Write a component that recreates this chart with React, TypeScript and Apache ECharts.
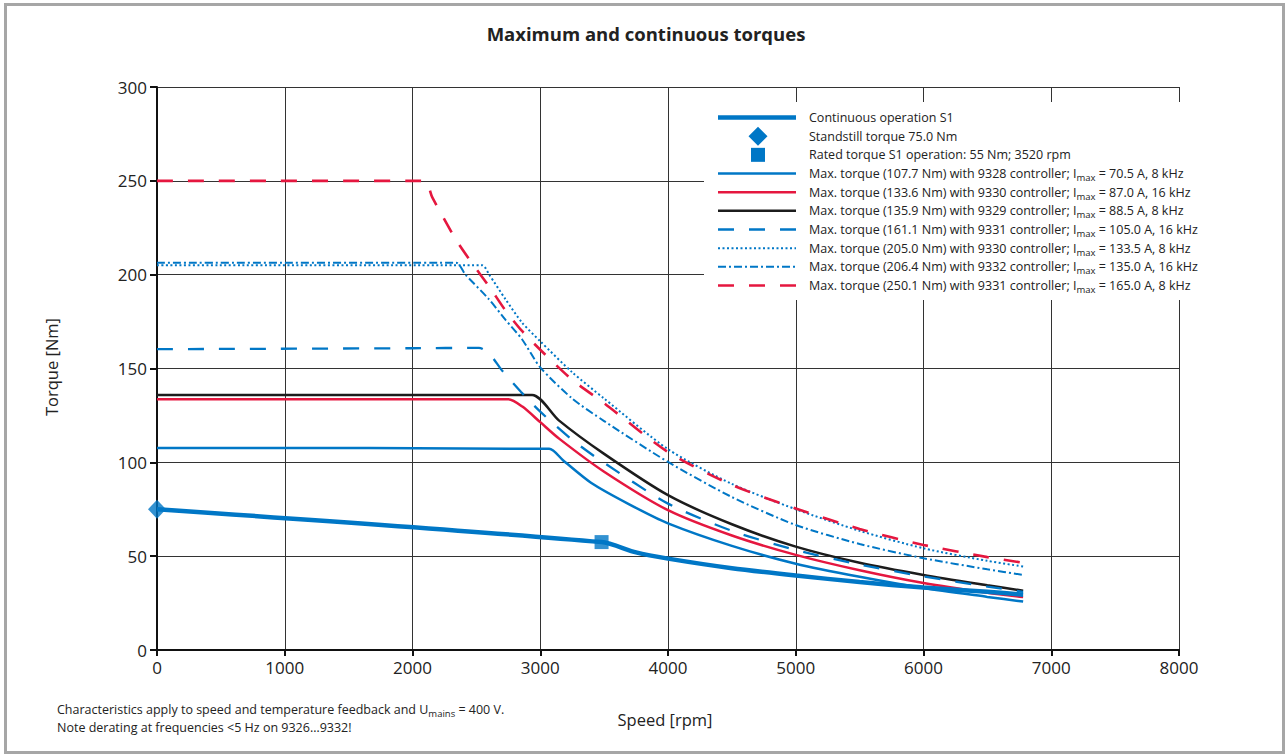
import React, { useEffect, useRef } from "react";
import * as echarts from "echarts";

// ---------- data (speed [rpm], torque [Nm]) ----------
const continuousS1: [number, number][] = [
  [0, 75], [3480, 57.5], [3750, 52], [4000, 48.7], [4500, 43.6], [5000, 39.7],
  [5500, 36.2], [6000, 33.3], [6500, 31.0], [6780, 29.5],
];
const standstillPoint: [number, number][] = [[0, 75]];
const ratedPoint: [number, number][] = [[3480, 57.5]];

const max9328_8k: [number, number][] = [
  [0, 107.7], [3070, 107.2], [3180, 101], [3400, 89], [3700, 77.5], [4000, 67.5],
  [4500, 55.5], [5000, 46], [5500, 39], [6000, 33], [6500, 28.3], [6780, 25.8],
];
const max9330_16k: [number, number][] = [
  [0, 133.6], [2750, 133.6], [2860, 129.7], [3000, 121.4], [3150, 112.5], [3500, 95],
  [4000, 74.5], [4500, 61], [5000, 50.7], [5500, 42.5], [6000, 35.7], [6500, 30.5], [6780, 28.2],
];
const max9329_8k: [number, number][] = [
  [0, 135.9], [2936, 135.9], [3143, 122.5], [3500, 104.5], [4000, 82.5], [4500, 67],
  [5000, 55.1], [5500, 46.5], [6000, 40], [6500, 34.5], [6780, 31.6],
];
const max9331_16k: [number, number][] = [
  [0, 160.3], [2000, 160.8], [2520, 161], [2600, 158], [2700, 149], [2850, 137.5],
  [3000, 127], [3250, 112], [3472, 101], [4000, 78], [4500, 63.5], [5000, 53.3],
  [5500, 45.5], [6000, 39.2], [6500, 33.8], [6780, 31],
];
const max9330_8k: [number, number][] = [
  [0, 205], [2545, 205], [2600, 200], [2727, 187], [2857, 174.5], [3000, 164.5],
  [3250, 148], [3500, 134], [4000, 107], [4500, 88.5], [5000, 75], [5500, 63.5],
  [6000, 54.2], [6500, 47.5], [6780, 44.5],
];
const max9332_16k: [number, number][] = [
  [0, 206.4], [2340, 206.4], [2415, 200], [2597, 187], [2727, 176], [2857, 165.6],
  [3000, 150.6], [3250, 134], [3500, 122], [4000, 100.2], [4500, 81.5], [5000, 66.6],
  [5500, 56.5], [6000, 48.9], [6500, 43], [6780, 40],
];
const max9331_8k: [number, number][] = [
  [0, 250], [2090, 250], [2156, 241], [2337, 219], [2467, 206], [2597, 194],
  [2727, 181], [2857, 170], [3000, 160], [3250, 144], [3500, 131.5], [4000, 105.5],
  [4500, 88], [5000, 75.4], [5500, 64.5], [6000, 56], [6500, 49.5], [6780, 46.5],
];

const legendLabels = [
  "Continuous operation S1",
  "Standstill torque 75.0 Nm",
  "Rated torque S1 operation: 55 Nm; 3520 rpm",
  "Max. torque (107.7 Nm) with 9328 controller; I{sub|max} = 70.5 A, 8 kHz",
  "Max. torque (133.6 Nm) with 9330 controller; I{sub|max} = 87.0 A, 16 kHz",
  "Max. torque (135.9 Nm) with 9329 controller; I{sub|max} = 88.5 A, 8 kHz",
  "Max. torque (161.1 Nm) with 9331 controller; I{sub|max} = 105.0 A, 16 kHz",
  "Max. torque (205.0 Nm) with 9330 controller; I{sub|max} = 133.5 A, 8 kHz",
  "Max. torque (206.4 Nm) with 9332 controller; I{sub|max} = 135.0 A, 16 kHz",
  "Max. torque (250.1 Nm) with 9331 controller; I{sub|max} = 165.0 A, 8 kHz",
];

const titleText = "Maximum and continuous torques";
const xAxisName = "Speed [rpm]";
const yAxisName = "Torque [Nm]";
const footnote1 = "Characteristics apply to speed and temperature feedback and U{sub|mains} = 400 V.";
const footnote2 = "Note derating at frequencies <5 Hz on 9326…9332!";

const BLUE = "#0077c6";
const RED = "#e5173f";
const BLACK = "#1c1c1c";
const FONT = "Open Sans";

type Style = { color: string; width: number; dash: number[] | "solid" };
const maxSeriesStyles: Style[] = [
  { color: BLUE, width: 2.5, dash: "solid" },
  { color: RED, width: 2.5, dash: "solid" },
  { color: BLACK, width: 2.5, dash: "solid" },
  { color: BLUE, width: 2.3, dash: [16, 15] },
  { color: BLUE, width: 2, dash: [2, 2.5] },
  { color: BLUE, width: 2, dash: [8, 3, 2, 3] },
  { color: RED, width: 2.6, dash: [16, 15] },
];
const maxSeriesData = [
  max9328_8k, max9330_16k, max9329_8k, max9331_16k, max9330_8k, max9332_16k, max9331_8k,
];

export default function App() {
  const ref = useRef<HTMLDivElement>(null);
  useEffect(() => {
    if (!ref.current) return;
    const chart = echarts.init(ref.current, undefined, { renderer: "svg" });

    const subRich = {
      sub: { fontSize: 9.5, fontFamily: FONT, lineHeight: 9, verticalAlign: "bottom", fill: "#222" },
    };

    const legendX0 = 718, legendX1 = 796, legendTextX = 809, legendY0 = 117.5, legendDY = 18.67;
    const legendChildren: any[] = [
      { type: "rect", shape: { x: 704, y: 102, width: 512, height: 198 }, style: { fill: "#fff" } },
    ];
    legendLabels.forEach((lab, i) => {
      const y = legendY0 + i * legendDY;
      if (i === 0) {
        legendChildren.push({ type: "line", shape: { x1: legendX0, y1: y, x2: legendX1, y2: y }, style: { stroke: BLUE, lineWidth: 4.5 } });
      } else if (i === 1) {
        legendChildren.push({ type: "polygon", shape: { points: [[758, y - 9.5], [767.5, y], [758, y + 9.5], [748.5, y]] }, style: { fill: BLUE } });
      } else if (i === 2) {
        legendChildren.push({ type: "rect", shape: { x: 751, y: y - 7, width: 14, height: 14 }, style: { fill: BLUE } });
      } else {
        const s = maxSeriesStyles[i - 3];
        legendChildren.push({
          type: "line",
          shape: { x1: legendX0, y1: y, x2: legendX1, y2: y },
          style: { stroke: s.color, lineWidth: s.width, lineDash: s.dash === "solid" ? null : s.dash },
        });
      }
      legendChildren.push({
        type: "text", x: legendTextX, y,
        style: {
          text: lab, fontFamily: FONT, fontSize: 12.5, lineHeight: 18, fill: "#222",
          align: "left", verticalAlign: "middle", rich: subRich,
        },
      });
    });

    const series: any[] = [
      {
        type: "line", name: legendLabels[0], data: continuousS1, symbol: "none",
        smooth: 0.25, lineStyle: { color: BLUE, width: 4.5 }, z: 3,
      },
      ...maxSeriesData.map((d, i) => ({
        type: "line", name: legendLabels[i + 3].replace("{sub|max}", "max"), data: d, symbol: "none",
        smooth: 0.25,
        lineStyle: { color: maxSeriesStyles[i].color, width: maxSeriesStyles[i].width, type: maxSeriesStyles[i].dash },
        z: 2,
      })),
      {
        type: "scatter", name: legendLabels[1], data: standstillPoint, symbol: "diamond",
        symbolSize: [18, 19], itemStyle: { color: BLUE }, clip: false, z: 5,
      },
      {
        type: "scatter", name: legendLabels[2], data: ratedPoint, symbol: "rect",
        symbolSize: 14, itemStyle: { color: BLUE }, clip: false, z: 5,
      },
    ];

    chart.setOption({
      animation: false,
      backgroundColor: "#fff",
      grid: { left: 157, top: 87, right: 107, bottom: 105, containLabel: false },
      xAxis: {
        type: "value", min: 0, max: 8000, interval: 1000,
        axisLine: { show: true, lineStyle: { color: "#111", width: 2 } },
        axisTick: { show: true, length: 6, lineStyle: { color: "#111", width: 2 } },
        axisLabel: { color: "#222", fontFamily: FONT, fontSize: 17, margin: 9, formatter: (v: number) => String(v) },
        splitLine: { show: true, lineStyle: { color: "#333", width: 1 } },
      },
      yAxis: {
        type: "value", min: 0, max: 300, interval: 50,
        axisLine: { show: true, lineStyle: { color: "#111", width: 2 } },
        axisTick: { show: true, length: 7, lineStyle: { color: "#111", width: 2 } },
        axisLabel: { color: "#222", fontFamily: FONT, fontSize: 17, margin: 10, padding: [0, 0, 6, 0], formatter: (v: number) => String(v) },
        splitLine: { show: true, lineStyle: { color: "#333", width: 1 } },
      },
      series,
      graphic: [
        {
          type: "rect", z: 200, silent: true,
          shape: { x: 5.5, y: 4.5, width: 1278, height: 748 },
          style: { fill: "none", stroke: "#a6a6a6", lineWidth: 3 },
        },
        {
          type: "text", x: 646, y: 33, z: 200,
          style: { text: titleText, fontFamily: FONT, fontWeight: "bold", fontSize: 18.5, fill: "#222", align: "center", verticalAlign: "middle" },
        },
        {
          type: "text", x: 51, y: 367, rotation: Math.PI / 2, z: 200,
          style: { text: yAxisName, fontFamily: FONT, fontSize: 16.5, fill: "#222", align: "center", verticalAlign: "middle" },
        },
        {
          type: "text", x: 665, y: 719, z: 200,
          style: { text: xAxisName, fontFamily: FONT, fontSize: 16.5, fill: "#222", align: "center", verticalAlign: "middle" },
        },
        {
          type: "text", x: 57, y: 709, z: 200,
          style: { text: footnote1, fontFamily: FONT, fontSize: 12.5, lineHeight: 18, fill: "#222", align: "left", verticalAlign: "middle", rich: { sub: { fontSize: 9.5, fontFamily: FONT, lineHeight: 9, verticalAlign: "bottom", fill: "#222" } } },
        },
        {
          type: "text", x: 57, y: 727, z: 200,
          style: { text: footnote2, fontFamily: FONT, fontSize: 12.5, fill: "#222", align: "left", verticalAlign: "middle" },
        },
        { type: "group", z: 100, children: legendChildren.map((c) => ({ ...c, z: 100 })) },
      ],
    });
    return () => chart.dispose();
  }, []);
  return <div ref={ref} style={{ position: "absolute", left: 0, top: 0, width: 1286, height: 755 }} />;
}
